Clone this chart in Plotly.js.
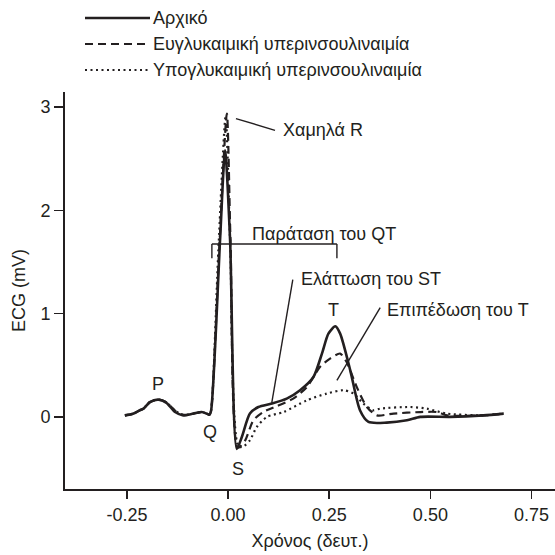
<!DOCTYPE html>
<html><head><meta charset="utf-8">
<script src="https://cdn.plot.ly/plotly-3.0.1.min.js"></script>
<style>html,body{margin:0;padding:0;background:#fff}</style>
</head><body><div id="chart" style="width:555px;height:555px"></div>
<script>
// ---- data ----
const seriesNames = ['Αρχικό', 'Ευγλυκαιμική υπερινσουλιναιμία', 'Υπογλυκαιμική υπερινσουλιναιμία'];

const xArxiko = [-0.255,-0.235,-0.218,-0.209,-0.193,-0.172,-0.152,-0.131,-0.111,-0.086,-0.065,-0.052,-0.046,-0.042,-0.0198,-0.0074,0.005,0.0215,0.034,0.054,0.075,0.108,0.145,0.178,0.211,0.232,0.248,0.265,0.277,0.302,0.326,0.347,0.392,0.442,0.475,0.549,0.631,0.681];
const yArxiko = [0.015,0.03,0.064,0.08,0.144,0.167,0.135,0.047,0.015,0.032,0.047,0.03,0.022,0.06,1.71,2.58,1.71,-0.31,-0.195,0.032,0.096,0.129,0.177,0.258,0.386,0.613,0.806,0.877,0.806,0.451,0.064,-0.049,-0.055,-0.033,0.0,0.0,0.015,0.032];

const xEuglyc = [-0.255,-0.235,-0.218,-0.209,-0.193,-0.172,-0.152,-0.131,-0.111,-0.086,-0.065,-0.052,-0.046,-0.042,-0.022,-0.003,0.006,0.024,0.042,0.0625,0.087,0.12,0.161,0.195,0.227,0.252,0.277,0.293,0.318,0.343,0.368,0.409,0.475,0.516,0.541,0.631,0.681];
const yEuglyc = [0.015,0.03,0.064,0.08,0.144,0.167,0.14,0.06,0.02,0.03,0.047,0.03,0.022,0.06,1.61,2.936,1.71,-0.3,-0.23,-0.033,0.047,0.103,0.177,0.29,0.483,0.564,0.613,0.531,0.29,0.096,0.015,0.032,0.047,0.047,0.015,0.015,0.032];

const xHypoglyc = [-0.255,-0.235,-0.218,-0.209,-0.193,-0.172,-0.152,-0.131,-0.111,-0.086,-0.065,-0.052,-0.046,-0.042,-0.024,-0.006,0.005,0.026,0.04,0.054,0.071,0.096,0.137,0.195,0.244,0.285,0.31,0.334,0.359,0.376,0.45,0.491,0.541,0.631,0.681];
const yHypoglyc = [0.015,0.03,0.064,0.08,0.144,0.167,0.14,0.06,0.02,0.03,0.047,0.03,0.022,0.06,1.61,2.91,1.71,-0.29,-0.28,-0.227,-0.098,0.0,0.047,0.161,0.226,0.258,0.226,0.129,0.064,0.08,0.096,0.08,0.032,0.015,0.032];

const xTickVals = [-0.25, 0, 0.25, 0.5, 0.75];
const xTickText = ['-0.25', '0.00', '0.25', '0.50', '0.75'];
const yTickVals = [0, 1, 2, 3];
const yTickText = ['0', '1', '2', '3'];

// ---- layout helpers ----
const FONT = 'Liberation Sans, Arial, Helvetica, sans-serif';
const INK = '#231f20';
const FS = 18;
const W = 555, H = 555;
const M = {l: 65, r: 0, t: 92, b: 66};
const px2paperX = px => (px - M.l) / (W - M.l - M.r);
const px2paperY = py => (H - M.b - py) / (H - M.t - M.b);

const dashes = ['solid', '8px,5px', '2px,3.5px'];
const widths = [2.6, 2.2, 2.2];
const xs = [xArxiko, xEuglyc, xHypoglyc];
const ys = [yArxiko, yEuglyc, yHypoglyc];

const traces = xs.map((x, i) => ({
  x: x, y: ys[i], type: 'scatter', mode: 'lines', name: seriesNames[i],
  line: {color: INK, width: widths[i], dash: dashes[i], shape: 'spline', smoothing: 0.7},
  showlegend: false, hoverinfo: 'skip'
}));

// legend (custom, drawn as shapes + text)
const legendRows = [18, 44, 70];
const shapes = [];
const annotations = [];
legendRows.forEach((py, i) => {
  shapes.push({type: 'line', xref: 'paper', yref: 'paper',
    x0: px2paperX(85), x1: px2paperX(150), y0: px2paperY(py), y1: px2paperY(py),
    line: {color: INK, width: widths[i], dash: dashes[i]}});
  annotations.push({xref: 'paper', yref: 'paper', x: px2paperX(151), y: px2paperY(py),
    xanchor: 'left', yanchor: 'middle', text: seriesNames[i], showarrow: false,
    font: {family: FONT, size: FS, color: INK}});
});

// labels on the trace
const lab = (x, y, text, xanchor) => annotations.push({x: x, y: y, xref: 'x', yref: 'y',
  text: text, showarrow: false, xanchor: xanchor || 'center', yanchor: 'middle',
  font: {family: FONT, size: FS, color: INK}});
lab(-0.172, 0.323, 'P');
lab(-0.0445, -0.149, 'Q');
lab(0.0255, -0.5, 'S');
lab(0.260, 1.039, 'T');
lab(0.131, 2.774, 'Χαμηλά R', 'left');
lab(0.237, 1.774, 'Παράταση του QT');
lab(0.176, 1.339, 'Ελάττωση του ST', 'left');
lab(0.388, 1.039, 'Επιπέδωση του T', 'left');

const seg = (x0, y0, x1, y1) => shapes.push({type: 'line', xref: 'x', yref: 'y',
  x0: x0, y0: y0, x1: x1, y1: y1, line: {color: INK, width: 1.4}});
seg(0.0195, 2.888, 0.116, 2.774);
seg(0.160, 1.329, 0.108, 0.135);
seg(0.376, 1.058, 0.269, 0.354);
// QT bracket
seg(-0.040, 1.535, -0.040, 1.674);
seg(-0.040, 1.674, 0.269, 1.674);
seg(0.269, 1.674, 0.269, 1.535);

const layout = {
  width: W, height: H, margin: M,
  paper_bgcolor: '#fff', plot_bgcolor: '#fff',
  font: {family: FONT, size: FS, color: INK},
  xaxis: {range: [-0.403, 0.808], showgrid: false, zeroline: false,
    showline: true, linecolor: INK, linewidth: 2,
    ticks: 'outside', ticklen: 8, tickwidth: 1.5, tickcolor: INK,
    tickvals: xTickVals, ticktext: xTickText, tickfont: {family: FONT, size: FS, color: INK},
    title: {text: 'Χρόνος (δευτ.)', font: {family: FONT, size: FS, color: INK}, standoff: 11}},
  yaxis: {range: [-0.698, 3.145], showgrid: false, zeroline: false,
    showline: true, linecolor: INK, linewidth: 2,
    ticks: 'outside', ticklen: 9, tickwidth: 1.5, tickcolor: INK,
    tickvals: yTickVals, ticktext: yTickText, tickfont: {family: FONT, size: FS, color: INK},
    title: {text: 'ECG (mV)', font: {family: FONT, size: FS, color: INK}, standoff: 10}},
  shapes: shapes, annotations: annotations, showlegend: false
};

Plotly.newPlot('chart', traces, layout, {staticPlot: true, displayModeBar: false});
</script></body></html>
